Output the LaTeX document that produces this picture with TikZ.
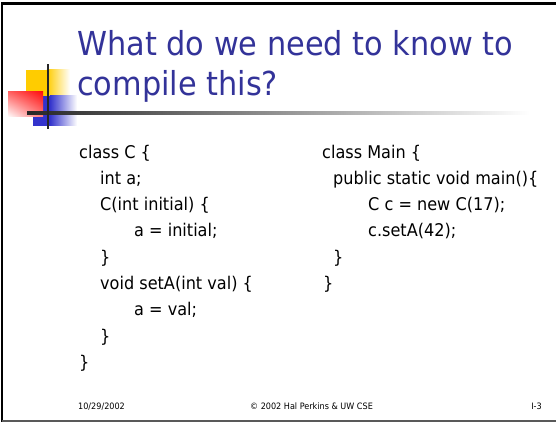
\documentclass[tikz,border=0pt]{standalone}
\usepackage{fontspec}
\setmainfont{DejaVu Sans}[FakeStretch=0.92]
\usetikzlibrary{positioning,shadings}
\definecolor{titleblue}{HTML}{333399}
\definecolor{logoyellow}{HTML}{FFCC00}
\definecolor{logoblue}{HTML}{3333CC}
\definecolor{logored}{HTML}{FF1010}
\tikzset{
  titletext/.style={anchor=base west, inner sep=0pt, text=titleblue, font=\fontsize{33}{33}\selectfont},
  codetext/.style={anchor=base west, inner sep=0pt, font=\fontsize{17.5}{17.5}\selectfont},
  foottext/.style={anchor=base west, inner sep=0pt, font=\fontsize{8.8}{8.8}\selectfont},
}
\begin{document}
\begin{tikzpicture}[x=1pt,y=-1pt]
\useasboundingbox (0,0) rectangle (556,422);
\fill[white] (0,0) rectangle (556,422);

% slide frame
\draw[line width=2.5pt] (2,422) -- (2,3.5) -- (556,3.5);
\draw[line width=2pt, black!65] (2,420.5) -- (556,420.5);

% corner logo: coloured squares and crossing rules
\fill[logoyellow] (26,70) rectangle (47,97);
\shade[left color=logoyellow, right color=white] (46.8,70) rectangle (70,97);
\fill[logoblue] (33,96) rectangle (50,126);
\shade[left color=logoblue, right color=white] (49.8,96) rectangle (77,126);
\shade[upper right=logored, lower left=white, upper left=logored!65, lower right=logored!55] (8,92) rectangle (43,117);
\shade[left color=black!85, right color=white] (27,111.8) rectangle (530,114.4);
\fill[black!85] (46.8,64) rectangle (49.4,129);

% title
\node[titletext] (t1) at (77,56) {What do we need to know to};
\node[titletext] (t2) at (77,96) {compile this?};

% class C
\node[codetext] (c1) at (79,158) {class C \{};
\node[codetext] (c2) at (100,184.3) {int a;};
\node[codetext] (c3) at (100,210.6) {C(int initial) \{};
\node[codetext] (c4) at (134,236.9) {a = initial;};
\node[codetext] (c5) at (100,263.2) {\}};
\node[codetext] (c6) at (100,289.5) {void setA(int val) \{};
\node[codetext] (c7) at (134,315.8) {a = val;};
\node[codetext] (c8) at (100,342.1) {\}};
\node[codetext] (c9) at (79,368.4) {\}};

% class Main
\node[codetext] (m1) at (322,158) {class Main \{};
\node[codetext] (m2) at (333,184.3) {public static void main()\{};
\node[codetext] (m3) at (368,210.6) {C c = new C(17);};
\node[codetext] (m4) at (368,236.9) {c.setA(42);};
\node[codetext] (m5) at (333,263.2) {\}};
\node[codetext] (m6) at (323,289.5) {\}};

% footer
\node[foottext] (f1) at (78,409.5) {10/29/2002};
\node[foottext, anchor=base] (f2) at (311.5,409.5) {© 2002 Hal Perkins \& UW CSE};
\node[foottext, anchor=base east] (f3) at (542,409.5) {I-3};
\end{tikzpicture}
\end{document}
